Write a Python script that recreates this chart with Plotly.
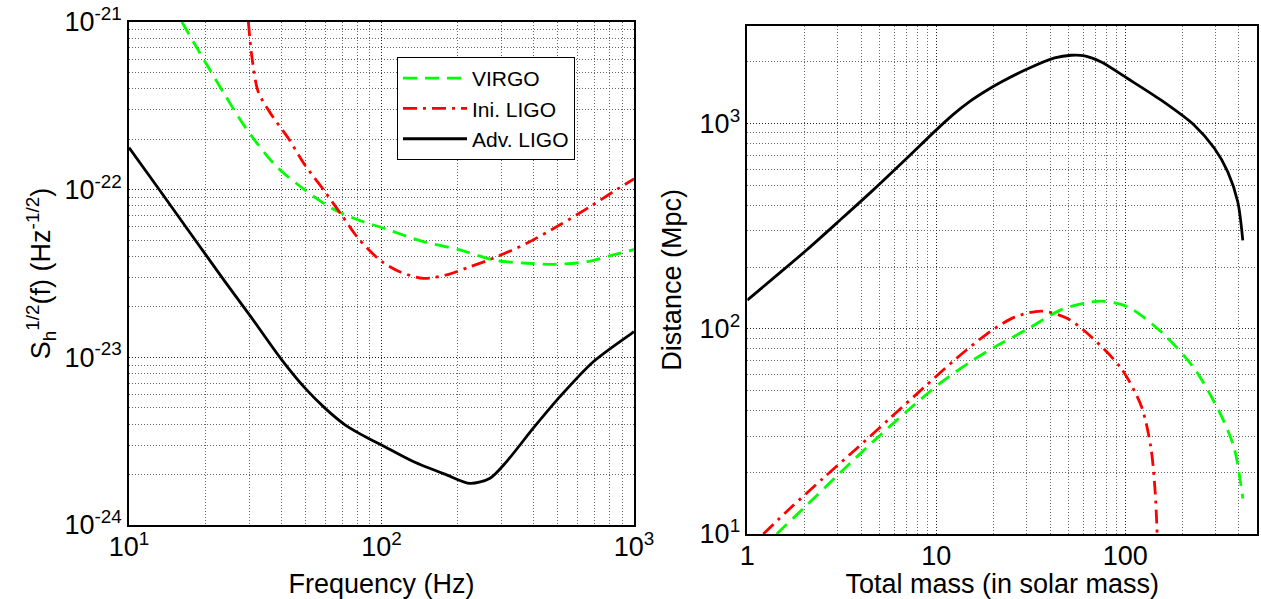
import plotly.graph_objects as go

# ---------------- Left panel: noise curves ----------------
adv_f = [10, 13.06, 17.7, 24.0, 30.6, 40.2, 49.8, 59.7, 71.7, 86.0, 100, 133.6, 181, 224, 269, 313, 399, 509, 690, 979, 1000]
adv_s = [1.78e-22, 1.02e-22, 5.37e-23, 2.83e-23, 1.72e-23, 9.7e-24, 6.55e-24, 4.98e-24, 3.96e-24, 3.37e-24,
         3.0e-24, 2.39e-24, 1.99e-24, 1.77e-24, 1.90e-24, 2.39e-24, 3.78e-24, 5.83e-24, 9.42e-24, 1.39e-23, 1.42e-23]

virgo_f = [16.2, 20.0, 24.0, 27.9, 32.5, 39.0, 49.8, 63.5, 80.9, 100, 146.5, 204.6, 277, 376, 494, 650, 828, 1000]
virgo_s = [1.0e-21, 5.8e-22, 3.67e-22, 2.54e-22, 1.85e-22, 1.34e-22, 9.95e-23, 7.74e-23, 6.59e-23, 5.95e-23,
           4.9e-23, 4.37e-23, 3.81e-23, 3.64e-23, 3.59e-23, 3.72e-23, 4.08e-23, 4.4e-23]

ini_f = [29.7, 30.6, 32.5, 36.7, 42.8, 49.8, 59.7, 69.5, 80.9, 99, 118, 146.5, 181, 224, 277, 376, 509, 670, 828, 1000]
ini_s = [1.0e-21, 6.36e-22, 3.83e-22, 2.79e-22, 2.02e-22, 1.40e-22, 9.73e-23, 7.06e-23, 5.13e-23, 3.78e-23,
         3.24e-23, 2.96e-23, 3.10e-23, 3.47e-23, 3.90e-23, 4.79e-23, 6.17e-23, 7.92e-23, 9.73e-23, 1.16e-22]

# ---------------- Right panel: horizon distance ----------------
adv_m = [1, 1.37, 2.06, 3.09, 4.63, 6.96, 10.4, 12.5, 15.0, 18.0, 21.7, 30.5, 42.3, 51.8, 61, 74.7, 103, 155, 232, 297, 349, 394, 419]
adv_d = [138, 176, 242, 338, 474, 676, 964, 1122, 1279, 1429, 1581, 1849, 2088, 2153, 2138, 1996, 1658, 1300, 982, 756, 582, 416, 270]

virgo_m = [1.43, 2.06, 3.09, 4.63, 6.96, 10.4, 15.7, 20.4, 30.6, 45.9, 60, 74.7, 103, 155, 232, 321, 378, 419]
virgo_d = [10, 13.8, 19.8, 28.2, 39.5, 54, 70.5, 81.5, 100, 124, 133, 136.5, 128, 96.6, 64.1, 38.0, 26.1, 14.9]

ini_m = [1.215, 1.68, 2.52, 3.79, 5.68, 8.51, 12.8, 19.2, 26, 36, 49.8, 66, 95.3, 122, 137, 144, 147.6]
ini_d = [10, 13.3, 18.7, 26.1, 36.6, 51.3, 71.8, 96.6, 114, 122, 112, 91.5, 64.1, 41.7, 26.1, 16.1, 10]

# ---------------- Ticks ----------------
left_yticks = [1e-24, 1e-23, 1e-22, 1e-21]
left_ytext = ["10<sup>-24</sup>", "10<sup>-23</sup>", "10<sup>-22</sup>", "10<sup>-21</sup>"]
left_xticks = [10, 100, 1000]
left_xtext = ["10<sup>1</sup>", "10<sup>2</sup>", "10<sup>3</sup>"]
right_xticks = [1, 10, 100]
right_xtext = ["1", "10", "100"]
right_yticks = [10, 100, 1000]
right_ytext = ["10<sup>1</sup>", "10<sup>2</sup>", "10<sup>3</sup>"]

left_xminor = [k * 10 ** e for e in (1, 2) for k in range(2, 10)]
left_yminor = [k * 10.0 ** e for e in (-24, -23, -22) for k in range(2, 10)]
right_xminor = [k * 10 ** e for e in (0, 1) for k in range(2, 10)] + [200, 300, 400]
right_yminor = [k * 10 ** e for e in (1, 2) for k in range(2, 10)] + [2000, 3000]

GREEN = "#00ff00"
RED = "#ff0000"
BLACK = "#000000"
DASH = "14px,8px"
DASHDOT = "14px,6px,3px,6px"
LW = 2.8

fig = go.Figure()
fig.add_trace(go.Scatter(x=virgo_f, y=virgo_s, mode="lines", name="VIRGO",
                         line=dict(color=GREEN, width=LW, dash=DASH, shape="spline", smoothing=0.8), xaxis="x", yaxis="y"))
fig.add_trace(go.Scatter(x=ini_f, y=ini_s, mode="lines", name="Ini. LIGO",
                         line=dict(color=RED, width=LW, dash=DASHDOT, shape="spline", smoothing=0.8), xaxis="x", yaxis="y"))
fig.add_trace(go.Scatter(x=adv_f, y=adv_s, mode="lines", name="Adv. LIGO",
                         line=dict(color=BLACK, width=LW, shape="spline", smoothing=0.8), xaxis="x", yaxis="y"))

fig.add_trace(go.Scatter(x=adv_m, y=adv_d, mode="lines", showlegend=False,
                         line=dict(color=BLACK, width=LW, shape="spline", smoothing=0.8), xaxis="x2", yaxis="y2"))
fig.add_trace(go.Scatter(x=virgo_m, y=virgo_d, mode="lines", showlegend=False,
                         line=dict(color=GREEN, width=LW, dash=DASH, shape="spline", smoothing=0.8), xaxis="x2", yaxis="y2"))
fig.add_trace(go.Scatter(x=ini_m, y=ini_d, mode="lines", showlegend=False,
                         line=dict(color=RED, width=LW, dash=DASHDOT, shape="spline", smoothing=0.8), xaxis="x2", yaxis="y2"))

FONT = "Liberation Sans, Arial, sans-serif"
TICKFONT = dict(family=FONT, size=27, color="black")
TITLEFONT = dict(family=FONT, size=27, color="black")


def axis_style(minor_vals):
    return dict(showgrid=True, gridcolor="#222222", gridwidth=1, griddash="1px,2px",
                showline=True, linecolor="black", linewidth=1.5, mirror=True,
                ticks="", zeroline=False, automargin=False,
                minor=dict(tickmode="array", tickvals=minor_vals, showgrid=True,
                           gridcolor="#666666", gridwidth=1, griddash="1px,2px", ticks=""))


fig.update_layout(
    width=1261, height=599,
    margin=dict(l=0, r=0, t=0, b=0, autoexpand=False),
    paper_bgcolor="white", plot_bgcolor="white",
    font=dict(family=FONT, color="black"),
    showlegend=True,
    legend=dict(x=397/1261, y=1-57/599, xanchor="left", yanchor="top",
                bgcolor="white", bordercolor="black", borderwidth=1,
                font=dict(family=FONT, size=21, color="black"),
                itemwidth=64, tracegroupgap=0),
    xaxis=dict(type="log", domain=[129/1261, 634/1261], range=[1, 3], anchor="y",
               tickvals=left_xticks, ticktext=left_xtext, tickfont=TICKFONT, ticklabelstandoff=-3,
               title=dict(text="Frequency (Hz)", font=TITLEFONT), **axis_style(left_xminor)),
    yaxis=dict(type="log", domain=[1-525/599, 1-22/599], range=[-24, -21], anchor="x",
               tickvals=left_yticks, ticktext=left_ytext, tickfont=TICKFONT,
               title=dict(text="S<sub>h</sub><sup>1/2</sup>(f) (Hz<sup>-1/2</sup>)", font=TITLEFONT, standoff=6),
               **axis_style(left_yminor)),
    xaxis2=dict(type="log", domain=[747.3/1261, 1257.3/1261], range=[0, 2.699], anchor="y2",
                tickvals=right_xticks, ticktext=right_xtext, tickfont=TICKFONT, ticklabelstandoff=-3,
                title=dict(text="Total mass (in solar mass)", font=TITLEFONT), **axis_style(right_xminor)),
    yaxis2=dict(type="log", domain=[1-534/599, 1-25.7/599], range=[1, 3.477], anchor="x2",
                tickvals=right_yticks, ticktext=right_ytext, tickfont=TICKFONT,
                title=dict(text="Distance (Mpc)", font=TITLEFONT, standoff=10), **axis_style(right_yminor)),
)

fig.write_html("out.html", config={"displayModeBar": False},
               post_script="document.body.style.margin='0px';document.body.style.overflow='hidden';")
